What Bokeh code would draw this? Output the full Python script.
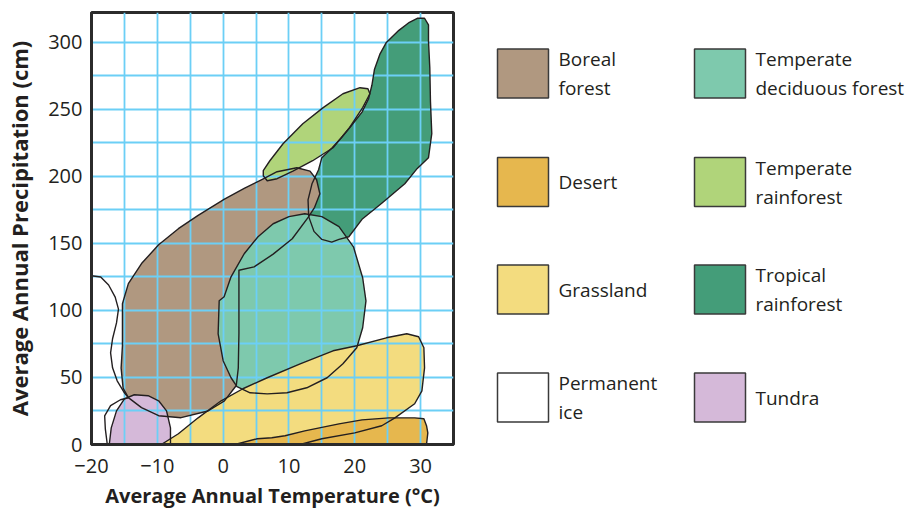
from bokeh.plotting import figure
from bokeh.models import Range1d, FixedTicker
from bokeh.layouts import row
from bokeh.embed import file_html
from bokeh.resources import INLINE
from bokeh.core.properties import value

# ---------------- data (temperature °C, precipitation cm) ----------------
tropical_t = [28.3, 29.5, 30.6, 31.2, 31.2, 31.4, 31.5, 31.7, 31.2, 29.5, 27.6, 24.1, 21.1, 19.1,
              17.6, 16.5, 15.0, 13.8, 13.0, 12.9, 13.5, 14.5, 15.0, 16.5, 18.0, 19.5, 21.1, 22.1,
              22.6, 23.0, 23.8, 24.8, 26.7]
tropical_p = [315, 318, 318, 313, 301, 281, 256, 232, 214, 206, 194.5, 180, 168, 155,
              153, 151, 153, 159, 170, 182.5, 194.5, 205, 214, 221, 229, 238, 248, 258,
              268, 280, 291, 300, 309]

temp_rain_t = [6.1, 6.7, 8.2, 10.6, 13.6, 16.7, 19.2, 21.2, 22.3, 22.0, 20.8, 18.2, 15.2, 12.1, 9.1, 7.1, 6.1]
temp_rain_p = [200.5, 196.8, 198.3, 204, 211.7, 221.4, 236.4, 251.3, 261.7, 265.4, 266.2, 261.7, 251.3, 239.3, 224.4, 211.7, 204.3]

boreal_t = [-15.3, -14.4, -12.4, -9.8, -6.8, -3.8, 0.2, 3.2, 5.8, 8.2, 11.2, 13.2, 14.2, 14.7, 13.9, 13.0,
            10.5, 7.6, 4.7, 2.4, 2.4, 2.4, 2.3, 2.0, 0.2, -2.3, -6.4, -9.8, -12.4, -14.4, -15.2, -15.5,
            -15.3, -15.3]
boreal_p = [105, 120, 135, 149, 161, 171, 183, 191, 197.5, 203.5, 206.5, 204, 197.5, 187, 177, 170,
            153.5, 142, 132.5, 130, 107, 83, 57, 44, 32.5, 25, 20, 21.5, 27.5, 35, 42, 57,
            73.6, 94.5]

deciduous_t = [-0.6, -0.76, 0.0, 1.2, 2.1, 4.1, 6.7, 9.7, 12.7, 15.8, 18.2, 20.3, 21.2, 21.7, 21.2,
               19.8, 17.6, 15.0, 12.4, 10.0, 7.6, 5.3, 3.2, 1.2, 0.15]
deciduous_p = [107.2, 82.6, 62.5, 49.8, 43.1, 38.6, 37.8, 38.6, 42.3, 49.8, 60.2, 72.2, 87.1, 107.2, 124.4,
               147.5, 162.5, 170, 172.2, 170, 164.7, 155, 142.3, 125.1, 110.2]

tundra_t = [-17.3, -17.0, -16.2, -15.0, -13.5, -11.4, -9.8, -8.6, -8.0, -8.0]
tundra_p = [0, 12.4, 25.1, 34.1, 37.1, 36.4, 32.6, 25.1, 12.4, 0]

grass_t = [-9.4, -6.8, -3.8, -0.3, 3.0, 6.7, 11.7, 16.7, 20.3, 24.8, 27.9, 29.7, 30.5, 30.6, 30.2,
           29.1, 26.1, 24.1, 20.0, 15.0, 11.7]
grass_p = [0, 8, 19.9, 32.6, 41.6, 49.8, 60.2, 69.9, 73.7, 79.6, 82.6, 80.4, 72.2, 57.2, 40,
           30.4, 19.9, 14, 8.7, 4.3, 0]

desert_t = [1.8, 5.2, 7.4, 9.4, 12.4, 17.6, 21.1, 25.2, 29.1, 30.5, 30.9, 31.1, 30.9]
desert_p = [0, 4.3, 5, 6.5, 10.2, 15.4, 18.4, 19.9, 19.9, 19.2, 14, 8.7, 0]

ice_t = [-20, -18.6, -17.4, -16.4, -15.9, -16.2, -16.8, -17.1, -16.8, -16.1, -15.0, -14.4,
         -15.6, -17.1, -18.0, -17.9, -17.6, -20]
ice_p = [125.9, 125, 119, 110, 101, 90.7, 78.9, 68.4, 57.2, 47.5, 38.6, 34.9,
         33.4, 29, 21.4, 11.7, 0, 0]

x_ticks = [-20, -10, 0, 10, 20, 30]
x_tick_labels = ["\u221220", "\u221210", "0", "10", "20", "30"]
y_ticks = [0, 50, 100, 150, 200, 250, 300]
x_grid = [-15, -10, -5, 0, 5, 10, 15, 20, 25, 30]
y_grid = [25, 50, 75, 100, 125, 150, 175, 200, 225, 250, 275, 300]

legend_names = ["Boreal\nforest", "Desert", "Grassland", "Permanent\nice",
                "Temperate\ndeciduous forest", "Temperate\nrainforest", "Tropical\nrainforest", "Tundra"]

# colours
C_BOREAL = "#b09880"
C_DESERT = "#e6b74e"
C_GRASS = "#f3dc7f"
C_ICE = "#ffffff"
C_DECID = "#7ec9ad"
C_TRAIN = "#b0d47a"
C_TROP = "#449d79"
C_TUNDRA = "#d5b9d9"
OUTLINE = "#231f20"

FONT = "Open Sans"

H = 515
TOP = 12
BOTTOM_BORDER = H - 444

# ---------------- main chart ----------------
p = figure(width=468, height=H, x_range=Range1d(-20, 35), y_range=Range1d(0, 322.3),
           toolbar_location=None, output_backend="svg",
           min_border_left=91, min_border_right=15, min_border_top=TOP, min_border_bottom=BOTTOM_BORDER)
p.background_fill_color = "white"
p.border_fill_color = "white"
p.outline_line_color = "#2b2b2b"
p.outline_line_width = 3

shapes = [
    (tropical_t, tropical_p, C_TROP),
    (boreal_t, boreal_p, C_BOREAL),
    (temp_rain_t, temp_rain_p, C_TRAIN),
    (deciduous_t, deciduous_p, C_DECID),
    (tundra_t, tundra_p, C_TUNDRA),
    (grass_t, grass_p, C_GRASS),
    (desert_t, desert_p, C_DESERT),
]
for xs, ys, col in shapes:
    p.patch(xs, ys, fill_color=col, line_color=None, level="image")

outlines = [(ice_t, ice_p)] + [(xs, ys) for xs, ys, _ in shapes]
for xs, ys in outlines:
    p.patch(xs, ys, fill_alpha=0, line_color=OUTLINE, line_width=1.4, line_join="round")

p.xgrid.ticker = FixedTicker(ticks=x_grid)
p.ygrid.ticker = FixedTicker(ticks=y_grid)
for g in (p.xgrid, p.ygrid):
    g.grid_line_color = "#6ccff6"
    g.grid_line_width = 1.8
    g.level = "underlay"

p.xaxis.ticker = FixedTicker(ticks=x_ticks)
p.xaxis.major_label_overrides = {t: l for t, l in zip(x_ticks, x_tick_labels)}
p.yaxis.ticker = FixedTicker(ticks=y_ticks)
for ax in (p.xaxis, p.yaxis):
    ax.axis_line_color = "#2b2b2b"
    ax.axis_line_width = 3
    ax.major_tick_out = 0
    ax.major_tick_in = 0
    ax.minor_tick_out = 0
    ax.minor_tick_in = 0
    ax.major_label_text_font = FONT
    ax.major_label_text_font_size = "20px"
    ax.major_label_text_color = "#231f20"
    ax.axis_label_text_font = FONT
    ax.axis_label_text_font_style = "bold"
    ax.axis_label_text_color = "#231f20"
p.xaxis.axis_label = "Average Annual Temperature (\u00b0C)"
p.yaxis.axis_label = "Average Annual Precipitation (cm)"
p.xaxis.axis_label_text_font_size = "20px"
p.yaxis.axis_label_text_font_size = "22px"
p.xaxis.major_label_standoff = 14
p.yaxis.major_label_standoff = 9
p.xaxis.axis_label_standoff = 6
p.yaxis.axis_label_standoff = 11

# ---------------- legend panel (data coords = page pixels) ----------------
lp = figure(width=437, height=H, x_range=Range1d(468, 905), y_range=Range1d(444, TOP),
            toolbar_location=None, output_backend="svg",
            min_border_left=0, min_border_right=0, min_border_top=TOP, min_border_bottom=BOTTOM_BORDER,
            x_axis_location=None, y_axis_location=None)
lp.outline_line_color = None
lp.grid.visible = False
legend_colors = [C_BOREAL, C_DESERT, C_GRASS, C_ICE, C_DECID, C_TRAIN, C_TROP, C_TUNDRA]
row_y = [73, 181.5, 289, 397]
col_x = [522.5, 719.5]
sq_x, sq_y, tx, ty, tt = [], [], [], [], []
for i, (name, col) in enumerate(zip(legend_names, legend_colors)):
    cx = col_x[i // 4]
    cy = row_y[i % 4]
    sq_x.append(cx)
    sq_y.append(cy)
    lines = name.split("\n")
    n = len(lines)
    for k, ln in enumerate(lines):
        tx.append(cx + 35.5)
        ty.append(cy + (k - (n - 1) / 2) * 29)
        tt.append(ln)
lp.rect(sq_x, sq_y, width=51, height=49, fill_color=legend_colors, line_color="#3a3a3a", line_width=1.5)
lp.text(tx, ty, text=tt, text_font=value(FONT), text_font_size="19px", text_color="#231f20",
        text_baseline="middle", text_align="left")

layout = row(p, lp)
open("out.html", "w").write(file_html(layout, INLINE))
